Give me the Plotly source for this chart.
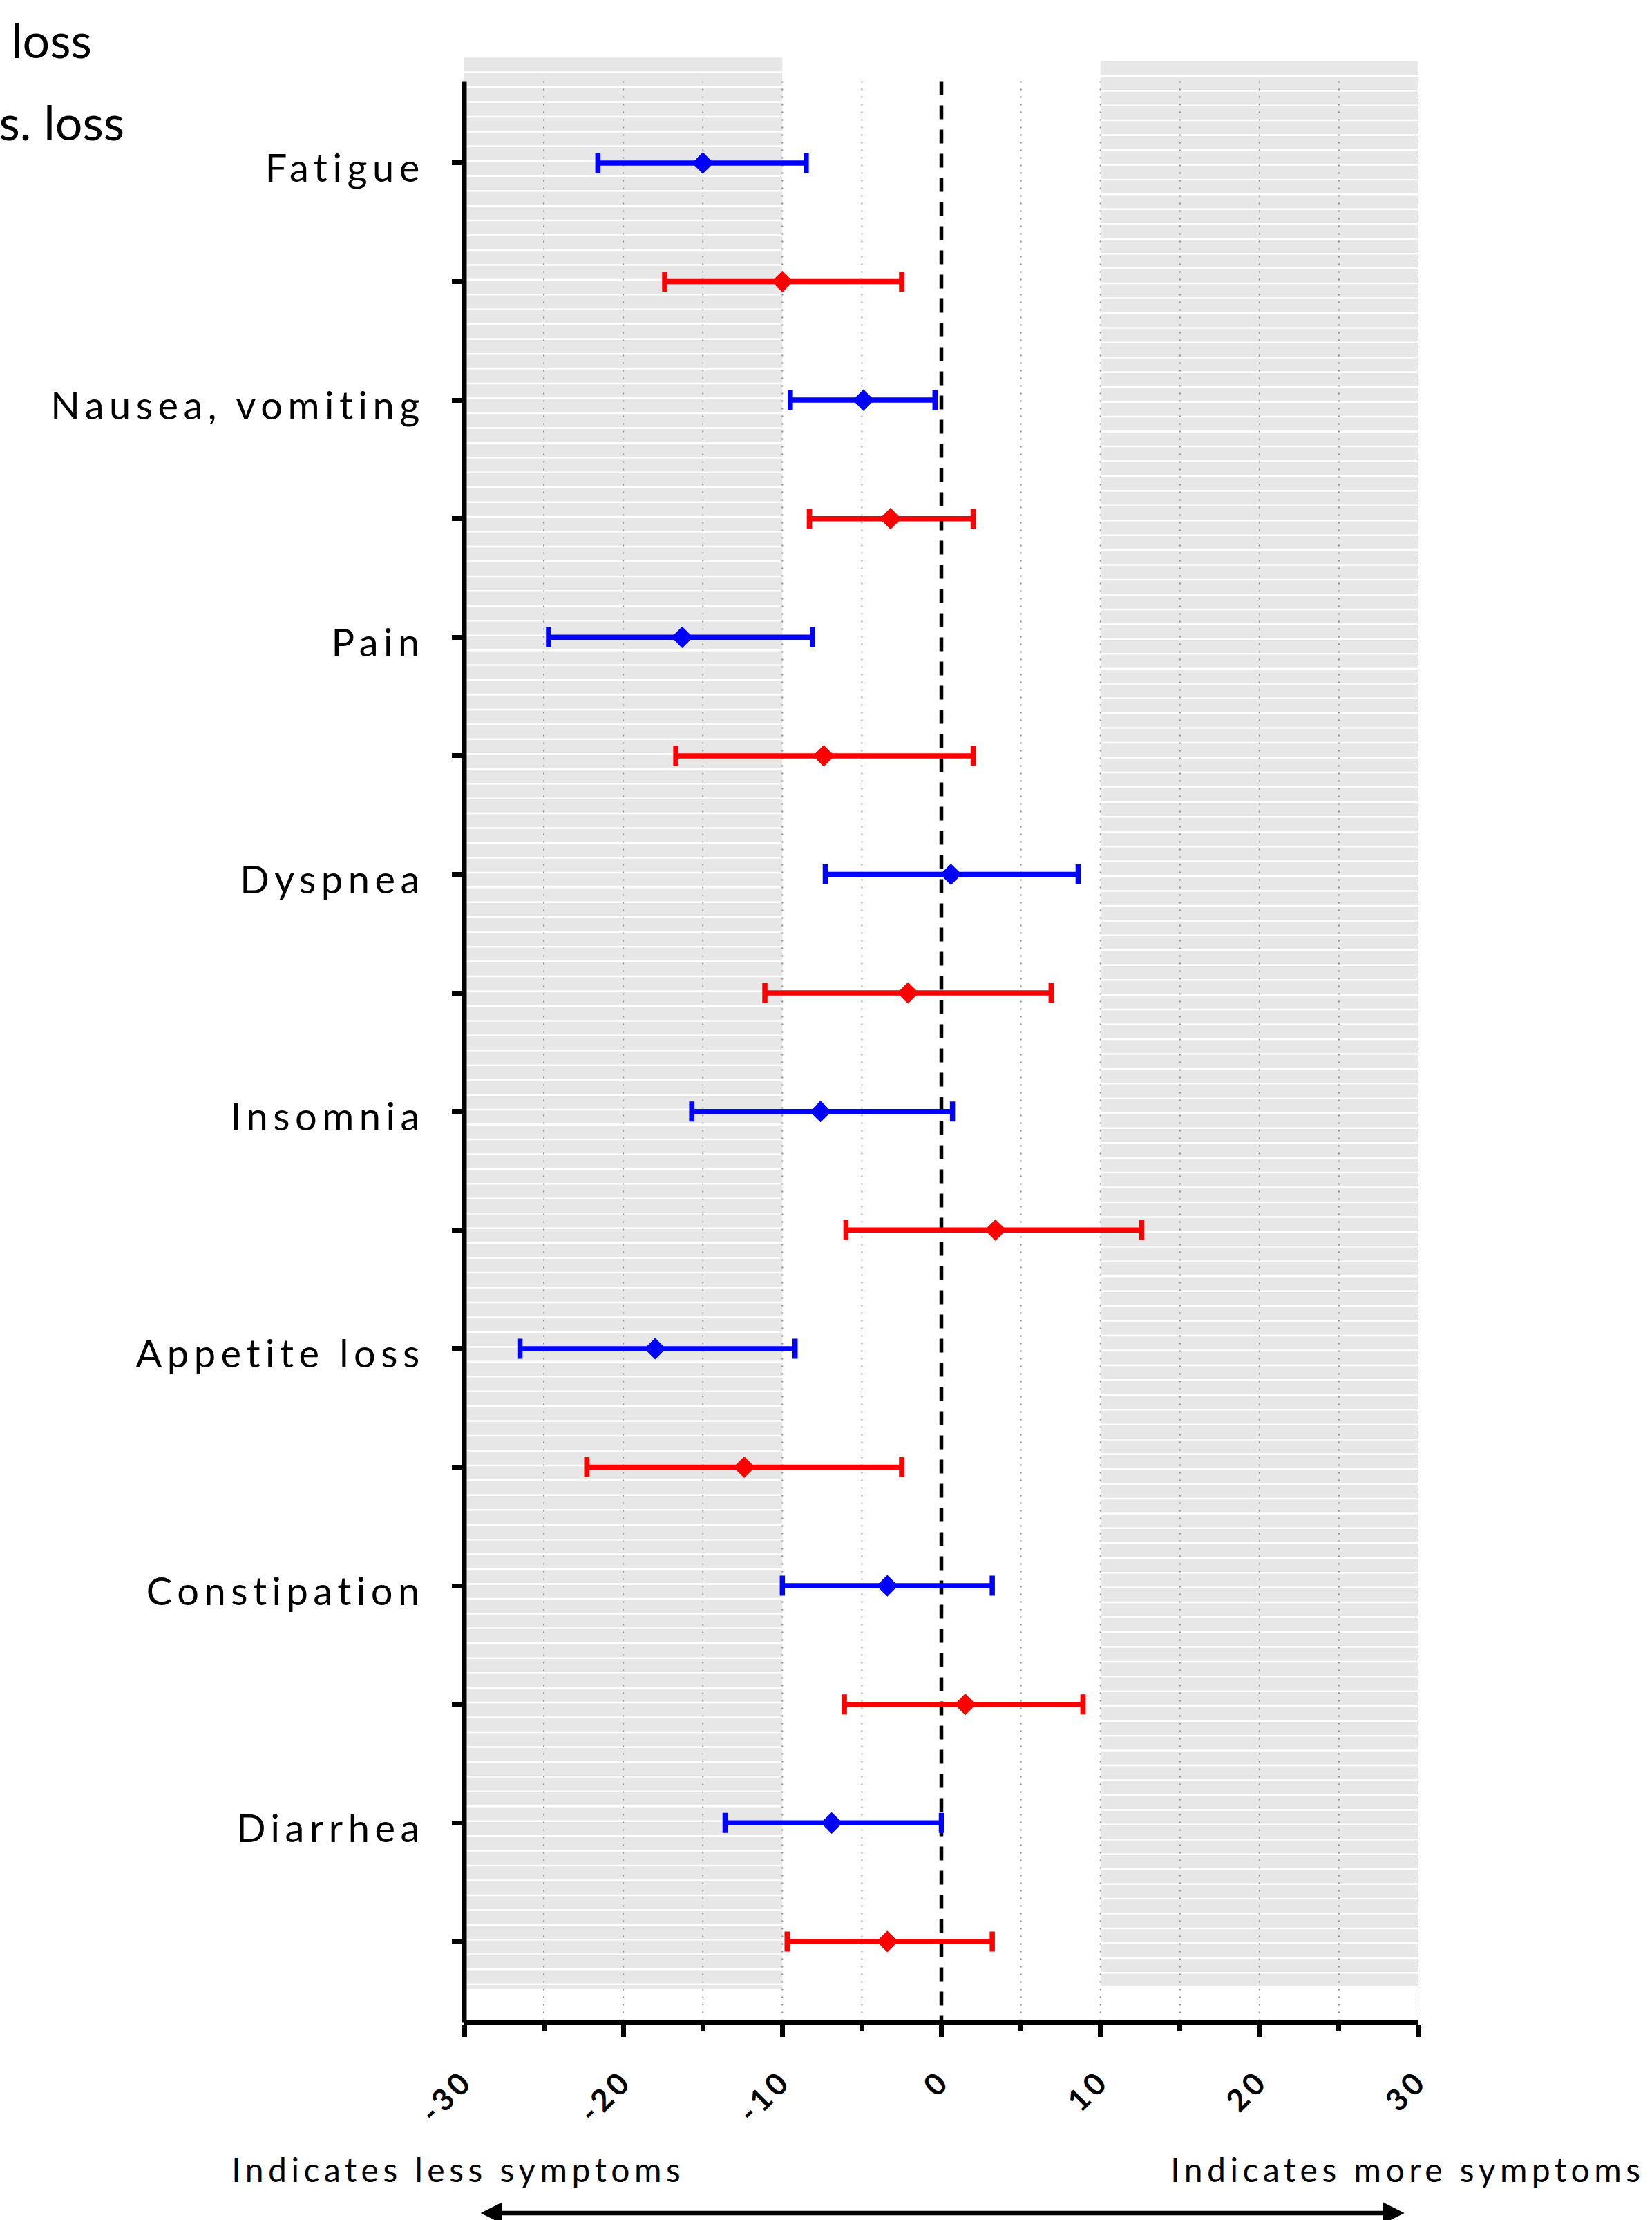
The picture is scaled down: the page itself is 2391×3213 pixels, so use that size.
import plotly.graph_objects as go

# Symptom categories (top to bottom); each has a blue row followed by a red row
categories = ["Fatigue", "Nausea, vomiting", "Pain", "Dyspnea",
              "Insomnia", "Appetite loss", "Constipation", "Diarrhea"]

# Blue series: mean difference with 95% CI bounds
blue_mean = [-15.0, -4.9, -16.3, 0.6, -7.6, -18.0, -3.4, -6.9]
blue_low = [-21.6, -9.5, -24.7, -7.3, -15.7, -26.5, -10.0, -13.6]
blue_high = [-8.5, -0.4, -8.1, 8.6, 0.7, -9.2, 3.2, 0.0]

# Red series: mean difference with 95% CI bounds
red_mean = [-10.0, -3.2, -7.4, -2.1, 3.4, -12.4, 1.5, -3.4]
red_low = [-17.4, -8.3, -16.7, -11.1, -6.0, -22.3, -6.1, -9.7]
red_high = [-2.5, 2.0, 2.0, 6.9, 12.6, -2.5, 8.9, 3.2]

x_ticks = [-30, -20, -10, 0, 10, 20, 30]
x_tick_labels = ["-30", "-20", "-10", "0", "10", "20", "30"]
x_minor_ticks = [-25, -15, -5, 5, 15, 25]
grid_x = [-25, -20, -15, -10, -5, 5, 10, 15, 20, 25, 30]

W, H = 2391, 3213
ML, MR, MT, MB = 672, 338, 72, 289
PW = W - ML - MR
Y_TOP, Y_BOTTOM = -0.955, 15.665          # reversed category axis
AXIS_TOP = -0.69                          # where the drawn axes start

n_rows = 2 * len(categories)
blue_y = [2 * i for i in range(len(categories))]
red_y = [2 * i + 1 for i in range(len(categories))]
tick_text = []
for c in categories:
    tick_text += [c, ""]

BLUE = "#0000ff"
RED = "#ff0000"
FONT = "Lato"


def ydom(k):
    """Category-axis value -> fraction of the y domain (0 bottom, 1 top)."""
    return (Y_BOTTOM - k) / (Y_BOTTOM - Y_TOP)


def xpaper(px):
    """Horizontal pixel position -> paper fraction."""
    return (px - ML) / PW


fig = go.Figure()

for name, ys, mean, lo, hi, col in [
    ("loss", blue_y, blue_mean, blue_low, blue_high, BLUE),
    ("vs. loss", red_y, red_mean, red_low, red_high, RED),
]:
    fig.add_trace(go.Scatter(
        x=mean, y=ys, mode="markers", name=name, showlegend=False,
        marker=dict(symbol="diamond", size=24, color=col, line=dict(width=0)),
        error_x=dict(type="data", symmetric=False,
                     array=[h - m for h, m in zip(hi, mean)],
                     arrayminus=[m - l for m, l in zip(mean, lo)],
                     color=col, thickness=7.5, width=14.5),
    ))

shapes = []
# shaded zones with thin white horizontal stripes
bands = [(-30, -10, -0.89, 15.40), (10, 30, -0.86, 15.38)]
for x0, x1, y0, y1 in bands:
    shapes.append(dict(type="rect", xref="x", yref="y", x0=x0, x1=x1, y0=y0, y1=y1,
                       fillcolor="#e7e7e7", line=dict(width=0), layer="below"))
    path = ""
    yy = y0 + 0.125
    while yy < y1 - 0.02:
        path += f"M{x0},{yy:.4f}L{x1},{yy:.4f}"
        yy += 0.125
    shapes.append(dict(type="path", xref="x", yref="y", path=path,
                       line=dict(color="white", width=2.5), layer="below"))

# dotted vertical gridlines every 5 units
grid_path = "".join(f"M{g},{AXIS_TOP}L{g},{Y_BOTTOM}" for g in grid_x)
shapes.append(dict(type="path", xref="x", yref="y", path=grid_path,
                   line=dict(color="#8c8c8c", width=2, dash="2px,9px"), layer="below"))

# dashed reference line at zero
shapes.append(dict(type="line", xref="x", yref="y", x0=0, x1=0, y0=AXIS_TOP, y1=Y_BOTTOM,
                   line=dict(color="black", width=5.5, dash="20px,15px"), layer="below"))

# left axis line, starting below the top of the plotting area
shapes.append(dict(type="line", xref="x domain", yref="y domain", x0=0, x1=0,
                   y0=ydom(AXIS_TOP), y1=-0.0012,
                   line=dict(color="black", width=7), layer="above"))

annotations = [
    dict(text="loss", xref="paper", yref="paper", x=xpaper(135),
         y=1.0052, xanchor="right", yanchor="middle", showarrow=False,
         font=dict(family=FONT, size=70, color="black")),
    dict(text="vs. loss", xref="paper", yref="paper", x=xpaper(182),
         y=0.9635, xanchor="right", yanchor="middle", showarrow=False,
         font=dict(family=FONT, size=70, color="black")),
    dict(text="Indicates less symptoms", xref="paper", yref="y domain", x=xpaper(663),
         y=-0.0754, xanchor="center", yanchor="middle", showarrow=False,
         font=dict(family=FONT, size=48, color="black")),
    dict(text="Indicates more symptoms", xref="paper", yref="y domain", x=xpaper(2037),
         y=-0.0754, xanchor="center", yanchor="middle", showarrow=False,
         font=dict(family=FONT, size=48, color="black")),
    dict(text="", xref="x", yref="y domain", x=29.12, y=-0.0978,
         axref="x", ayref="y domain", ax=-29.04, ay=-0.0978,
         showarrow=True, arrowside="end+start", arrowhead=2, arrowsize=0.95,
         arrowwidth=6.5, arrowcolor="black", standoff=0, startstandoff=0),
]

fig.update_layout(
    width=W, height=H,
    margin=dict(l=ML, r=MR, t=MT, b=MB, pad=0),
    paper_bgcolor="white", plot_bgcolor="white",
    font=dict(family=FONT, color="black"),
    shapes=shapes, annotations=annotations, showlegend=False,
    xaxis=dict(range=[-30, 30], tickvals=x_ticks, ticktext=x_tick_labels,
               tickangle=-45, ticks="outside", ticklen=17, tickwidth=7, tickcolor="black",
               showline=True, linewidth=7, linecolor="black",
               showgrid=False, zeroline=False, ticklabelstandoff=20,
               tickfont=dict(family=FONT, size=44, color="black", weight="bold"),
               minor=dict(tickvals=x_minor_ticks, ticks="outside", ticklen=8,
                          tickwidth=7, tickcolor="black", showgrid=False)),
    yaxis=dict(range=[Y_BOTTOM, Y_TOP], tickvals=list(range(n_rows)), ticktext=tick_text,
               ticks="outside", ticklen=17, tickwidth=7, tickcolor="black",
               showline=False, showgrid=False, zeroline=False, ticklabelstandoff=28,
               tickfont=dict(family=FONT, size=56, color="black")),
)

# widen the character spacing of axis labels and the direction captions
post = """
var gd = document.getElementById('{plot_id}');
function spread() {
  gd.querySelectorAll('g.ytick text').forEach(function(t){
    t.style.letterSpacing = '7.5px';
    t.setAttribute('dy', '8px');
  });
  gd.querySelectorAll('g.xtick text').forEach(function(t){ t.style.letterSpacing = '6px'; });
  gd.querySelectorAll('g.annotation text').forEach(function(t){
    if (t.textContent.indexOf('Indicates') === 0) { t.style.letterSpacing = '6.5px'; }
  });
}
spread();
gd.on('plotly_afterplot', spread);
"""

fig.write_html("out.html", post_script=post)
